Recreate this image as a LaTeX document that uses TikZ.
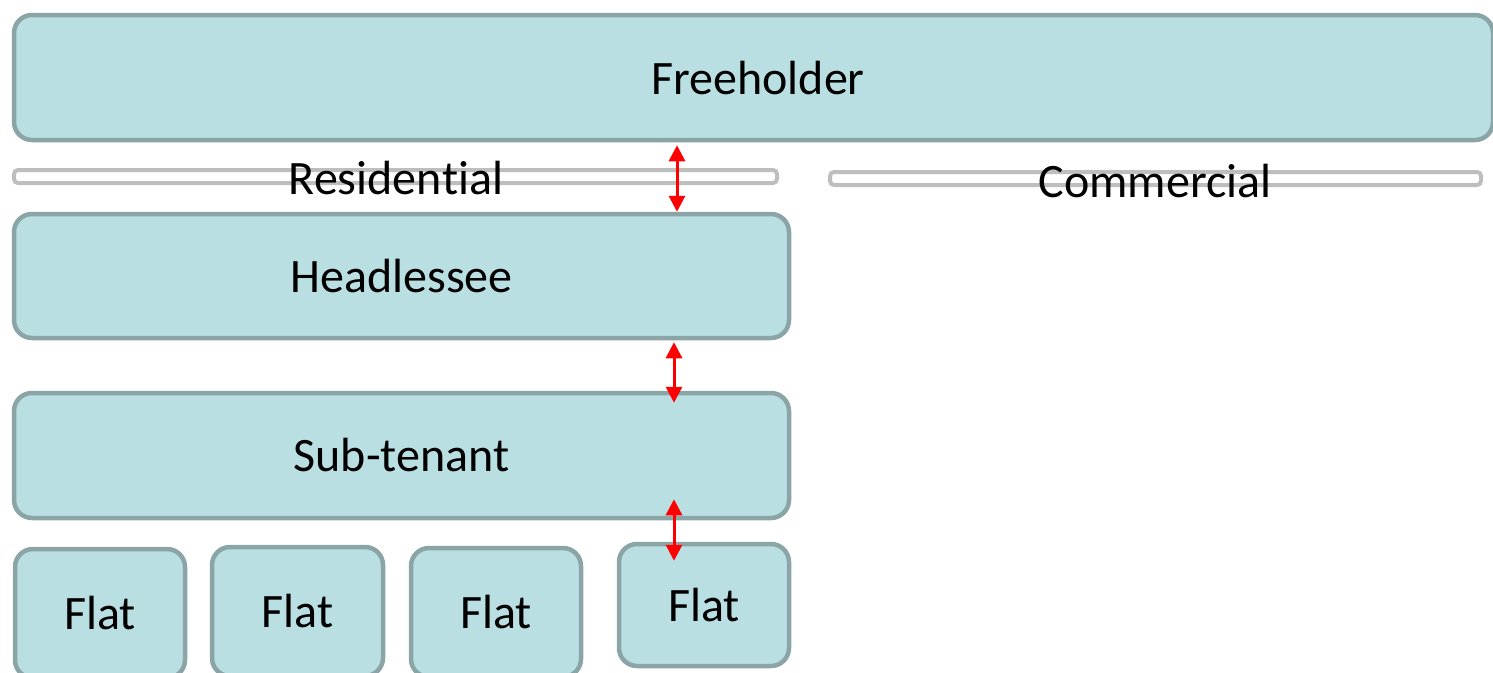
\documentclass[tikz,border=0pt]{standalone}
\usepackage{fontspec}
\setmainfont{Carlito}[Ligatures=NoCommon,Contextuals=NoAlternate]
\usetikzlibrary{arrows.meta}
\definecolor{boxfill}{HTML}{B9DFE2}
\definecolor{boxline}{HTML}{8BA5A7}
\definecolor{barline}{HTML}{BEBEBE}
\begin{document}
\begin{tikzpicture}[x=1pt,y=-1pt,
  box/.style={draw=boxline, fill=boxfill, line width=4.5pt, rounded corners=18pt, inner sep=0pt, font=\fontsize{48}{57}\selectfont},
  bar/.style={draw=barline, fill=white, line width=4pt, rounded corners=4pt, inner sep=0pt, minimum height=13pt},
  lbl/.style={font=\fontsize{48}{57}\selectfont, inner sep=0pt},
  arr/.style={red, line width=3pt, {Triangle[width=16pt,length=16pt]}-{Triangle[width=16pt,length=16pt]}}]
\useasboundingbox (0,0) rectangle (1493,672);
\node[box, minimum width=1479pt, minimum height=125pt] (free) at (753.5,77.5) {\hspace{9pt}Freeholder};
\node[bar, minimum width=763pt] (resbar) at (395.5,176.5) {};
\node[bar, minimum width=651pt] (combar) at (1155.5,178.5) {};
\node[lbl] (res) at (396,178) {Residen\kern0pt tial};
\node[lbl] (com) at (1155,181) {Commercial};
\node[box, minimum width=775pt, minimum height=124pt] (head) at (401.5,276) {Headlessee};
\node[box, minimum width=775pt, minimum height=125pt] (sub) at (401.5,455.5) {Sub-tenant};
\node[box, minimum width=170pt, minimum height=129pt] (f1) at (100,613.5) {Flat};
\node[box, minimum width=171pt, minimum height=129pt] (f2) at (297.5,611.5) {Flat};
\node[box, minimum width=170pt, minimum height=129pt] (f3) at (496,612.5) {Flat};
\node[box, minimum width=170pt, minimum height=122pt] (f4) at (704,605) {Flat};
\coordinate (c1) at (677,0);
\coordinate (c2) at (674,0);
\draw[arr] ([yshift=-3pt]free.south -| c1) -- (head.north -| c1);
\draw[arr] ([yshift=-2pt]head.south -| c2) -- ([yshift=-12pt]sub.north -| c2);
\draw[arr] ([yshift=21pt]sub.south -| c2) -- ([yshift=-19pt]f4.north -| c2);
\end{tikzpicture}
\end{document}
